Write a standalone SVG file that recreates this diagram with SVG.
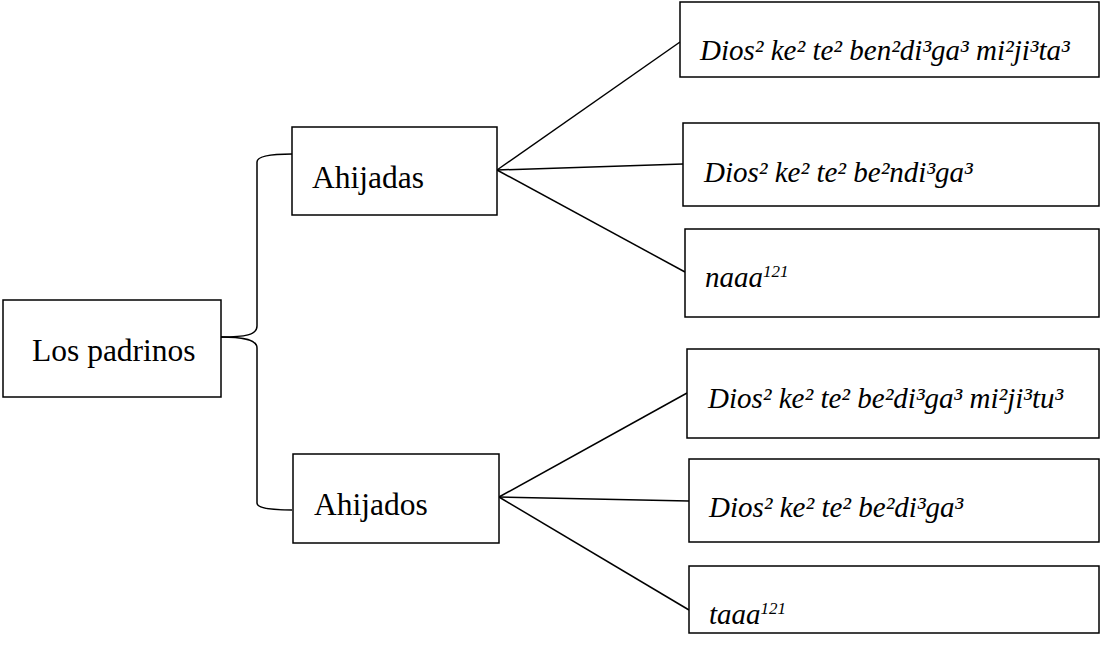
<svg xmlns="http://www.w3.org/2000/svg" width="1102" height="661" viewBox="0 0 1102 661">
  <style>
    .box { fill: #fff; stroke: #000; stroke-width: 1.5; }
    .link { fill: none; stroke: #000; stroke-width: 1.5; }
    .lbl { font-family: "Liberation Serif", "Times New Roman", serif; font-size: 31.5px; fill: #000; }
    .it { font-family: "Liberation Serif", "Times New Roman", serif; font-size: 29px; font-style: italic; fill: #000; }
    .sup { font-size: 17px; }
  </style>
  <rect width="1102" height="661" fill="#fff"/>

  <g id="connectors">
    <!-- curly bracket from the root to both groups -->
    <path class="link" d="M221,337 C245,337 257,335 257,326 L257,162 C257,156 270,154 292,154"/>
    <path class="link" d="M221,337 C245,337 257,340 257,348 L257,503 C257,508 270,510 292,510"/>
    <!-- fan-out from Ahijadas -->
    <path class="link" d="M497,170 L680,42"/>
    <path class="link" d="M497,170 L683,164"/>
    <path class="link" d="M497,170 L685,272"/>
    <!-- fan-out from Ahijados -->
    <path class="link" d="M499,497 L687,393"/>
    <path class="link" d="M499,497 L689,501"/>
    <path class="link" d="M499,497 L689,610"/>
  </g>

  <g id="padrinos">
    <rect class="box" x="3" y="300" width="218" height="97"/>
    <text class="lbl" x="32" y="361">Los padrinos</text>
  </g>
  <g id="ahijadas">
    <rect class="box" x="292" y="127" width="205" height="88"/>
    <text class="lbl" x="312" y="188">Ahijadas</text>
  </g>
  <g id="ahijados">
    <rect class="box" x="293" y="454" width="206" height="89"/>
    <text class="lbl" x="314" y="515">Ahijados</text>
  </g>

  <g id="ahijadas-1">
    <rect class="box" x="680" y="2" width="419" height="75"/>
    <text class="it" x="700" y="60">Dios² ke² te² ben²di³ga³ mi²ji³ta³</text>
  </g>
  <g id="ahijadas-2">
    <rect class="box" x="683" y="123" width="416" height="83"/>
    <text class="it" x="704" y="182">Dios² ke² te² be²ndi³ga³</text>
  </g>
  <g id="ahijadas-3">
    <rect class="box" x="685" y="229" width="414" height="88"/>
    <text class="it" x="705" y="287">naaa<tspan class="sup" dy="-10">121</tspan></text>
  </g>

  <g id="ahijados-1">
    <rect class="box" x="687" y="349" width="412" height="89"/>
    <text class="it" x="708" y="408">Dios² ke² te² be²di³ga³ mi²ji³tu³</text>
  </g>
  <g id="ahijados-2">
    <rect class="box" x="689" y="459" width="410" height="83"/>
    <text class="it" x="709" y="517">Dios² ke² te² be²di³ga³</text>
  </g>
  <g id="ahijados-3">
    <rect class="box" x="689" y="566" width="410" height="67"/>
    <text class="it" x="709" y="624">taaa<tspan class="sup" dy="-10">121</tspan></text>
  </g>
</svg>
